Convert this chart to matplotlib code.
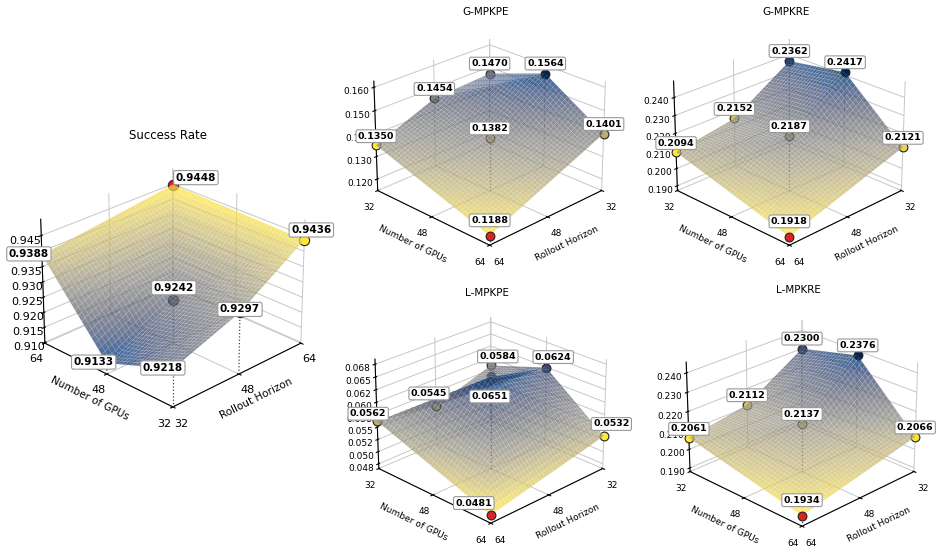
import numpy as np
import matplotlib
matplotlib.use('Agg')
import matplotlib.pyplot as plt
import matplotlib.tri as mtri
from matplotlib import colors
from mpl_toolkits.mplot3d import proj3d

# ---- data: configurations (Number of GPUs, Rollout Horizon) ----
gpus = [32, 32, 32, 48, 48, 64, 64]
horizons = [32, 48, 64, 32, 48, 32, 64]

success_rate = [0.9218, 0.9297, 0.9436, 0.9133, 0.9242, 0.9388, 0.9448]
g_mpkpe = [0.1470, 0.1454, 0.1350, 0.1564, 0.1382, 0.1401, 0.1188]
g_mpkre = [0.2362, 0.2152, 0.2094, 0.2417, 0.2187, 0.2121, 0.1918]
l_mpkpe = [0.0584, 0.0545, 0.0562, 0.0624, 0.0651, 0.0532, 0.0481]
l_mpkre = [0.2300, 0.2112, 0.2061, 0.2376, 0.2137, 0.2066, 0.1934]

axis_ticks = [32, 48, 64]
success_zticks = [0.910, 0.915, 0.920, 0.925, 0.930, 0.935, 0.940, 0.945]
g_mpkpe_zticks = [0.120, 0.130, 0.140, 0.150, 0.160]
g_mpkre_zticks = [0.190, 0.200, 0.210, 0.220, 0.230, 0.240]
l_mpkpe_zticks = [0.0475, 0.0500, 0.0525, 0.0550, 0.0575, 0.0600, 0.0625, 0.0650, 0.0675]
l_mpkpe_zticklabels = ['0.048', '0.050', '0.052', '0.055', '0.058', '0.060', '0.062', '0.065', '0.068']
l_mpkre_zticks = [0.190, 0.200, 0.210, 0.220, 0.230, 0.240]

# label placement style (pixel offsets of each value box from its point)
success_label_offsets = [(-10, 1), (0, 3), (7, 10), (-13, 1), (1, 12), (-13, 1), (23, 7)]
small_label_offsets = [(0, 10), (0, 9.5), (0, 9), (0, 10), (0, 9.5), (0, 9.5), (0, 15.5)]
l_mpkpe_label_offsets = [(7, 9), (-7, 12.5), (-9, 7.5), (7, 10.5), (-1, -20), (7.5, 12), (-17, 12)]

fig = plt.figure(figsize=(9.42, 5.56), dpi=100)


def panel(rect, values, title, zticks, zlim, higher_better, azim, offsets,
          big=False, zticklabels=None, zoom=0.9, title_y=0.98, elev=25):
    ax = fig.add_axes(rect, projection='3d', computed_zorder=False)
    x = np.array(horizons, float)
    y = np.array(gpus, float)
    z = np.array(values, float)
    cmap = plt.get_cmap('cividis' if higher_better else 'cividis_r')
    n = len(z)

    ax.set_xlim(32, 64)
    ax.set_ylim(32, 64)
    ax.set_zlim(*zlim)
    ax.view_init(elev=elev, azim=azim)
    ax.set_box_aspect(None, zoom=zoom)

    # back corner: farthest from the viewer; front corner: nearest
    back = 64 if higher_better else 32
    front = 32 if higher_better else 64

    best = int(np.argmax(z)) if higher_better else int(np.argmin(z))
    rest = np.delete(z, best)
    mnorm = colors.Normalize(rest.min(), rest.max())
    ms = 55 if big else 40
    fs = 7.5 if big else 6.8
    bbox = dict(boxstyle='round,pad=0.2', fc='white', ec='#999999', lw=0.8)
    proj = ax.get_proj()
    for i in range(n):
        col = '#dd2222' if i == best else cmap(mnorm(z[i]))
        if x[i] != back and y[i] != back:
            ax.plot([x[i], x[i]], [y[i], y[i]], [zlim[0], z[i]], ls=':',
                    color='#444444', lw=0.9, zorder=2)
        on_top = (x[i] == front and y[i] == front)
        ax.scatter([x[i]], [y[i]], [z[i]], s=ms, color=col,
                   edgecolors='#222222', linewidths=0.8, depthshade=False,
                   zorder=6 if on_top else 3)
        px, py, _ = proj3d.proj_transform(x[i], y[i], z[i], proj)
        ax.annotate(f'{z[i]:.4f}', xy=(px, py), xycoords='data',
                    xytext=offsets[i], textcoords='offset pixels',
                    ha='center', va='center', fontsize=fs,
                    fontweight='bold', zorder=100, bbox=bbox,
                    annotation_clip=False)

    tri = mtri.Triangulation(x, y)
    interp = mtri.LinearTriInterpolator(tri, z)
    gx, gy = np.meshgrid(np.linspace(32, 64, 40), np.linspace(32, 64, 40))
    gz = interp(gx, gy).filled(np.nan)
    ax.plot_surface(gx, gy, gz, cmap=cmap, alpha=0.7, linewidth=0.08,
                    edgecolor=(1, 1, 1, 0.15), antialiased=True,
                    vmin=z.min(), vmax=z.max(), zorder=4)

    ax.set_xticks(axis_ticks)
    ax.set_yticks(axis_ticks)
    ax.set_zticks(zticks)
    if zticklabels is not None:
        ax.set_zticklabels(zticklabels)
    else:
        ax.set_zticklabels([f'{t:.3f}' for t in zticks])
    ax.set_zlim(*zlim)
    tfs = 8 if big else 6.5
    lfs = 7.5 if big else 6.5
    ax.tick_params(axis='both', labelsize=tfs, pad=0)
    ax.set_xlabel('Rollout Horizon', fontsize=lfs, labelpad=-4)
    ax.set_ylabel('Number of GPUs', fontsize=lfs, labelpad=-4)
    for a in (ax.xaxis, ax.yaxis, ax.zaxis):
        a.set_pane_color((1, 1, 1, 0))
        a._axinfo['grid']['color'] = (0.78, 0.78, 0.78, 1)
        a._axinfo['grid']['linewidth'] = 0.7
    ax.set_title(title, fontsize=8.5 if big else 7.5, y=title_y)
    return ax


panel([-0.0065, 0.134, 0.37, 0.70], success_rate, 'Success Rate',
      success_zticks, (0.9097, 0.9502), True, -135, success_label_offsets,
      big=True, zoom=0.82, title_y=0.978, elev=26)
panel([0.3508, 0.4973, 0.33, 0.5], g_mpkpe, 'G-MPKPE', g_mpkpe_zticks,
      (0.1148, 0.1626), False, 45, small_label_offsets, title_y=1.0)
panel([0.669, 0.4973, 0.33, 0.5], g_mpkre, 'G-MPKRE', g_mpkre_zticks,
      (0.1872, 0.249), False, 45, small_label_offsets, title_y=1.0)
panel([0.352, -0.0027, 0.33, 0.5], l_mpkpe, 'L-MPKPE', l_mpkpe_zticks,
      (0.0465, 0.0685), False, 45, l_mpkpe_label_offsets,
      zticklabels=l_mpkpe_zticklabels, title_y=0.99)
panel([0.6824, -0.0081, 0.33, 0.5], l_mpkre, 'L-MPKRE', l_mpkre_zticks,
      (0.188, 0.2455), False, 45, small_label_offsets, title_y=1.015)

fig.savefig('out.png', dpi=100)
